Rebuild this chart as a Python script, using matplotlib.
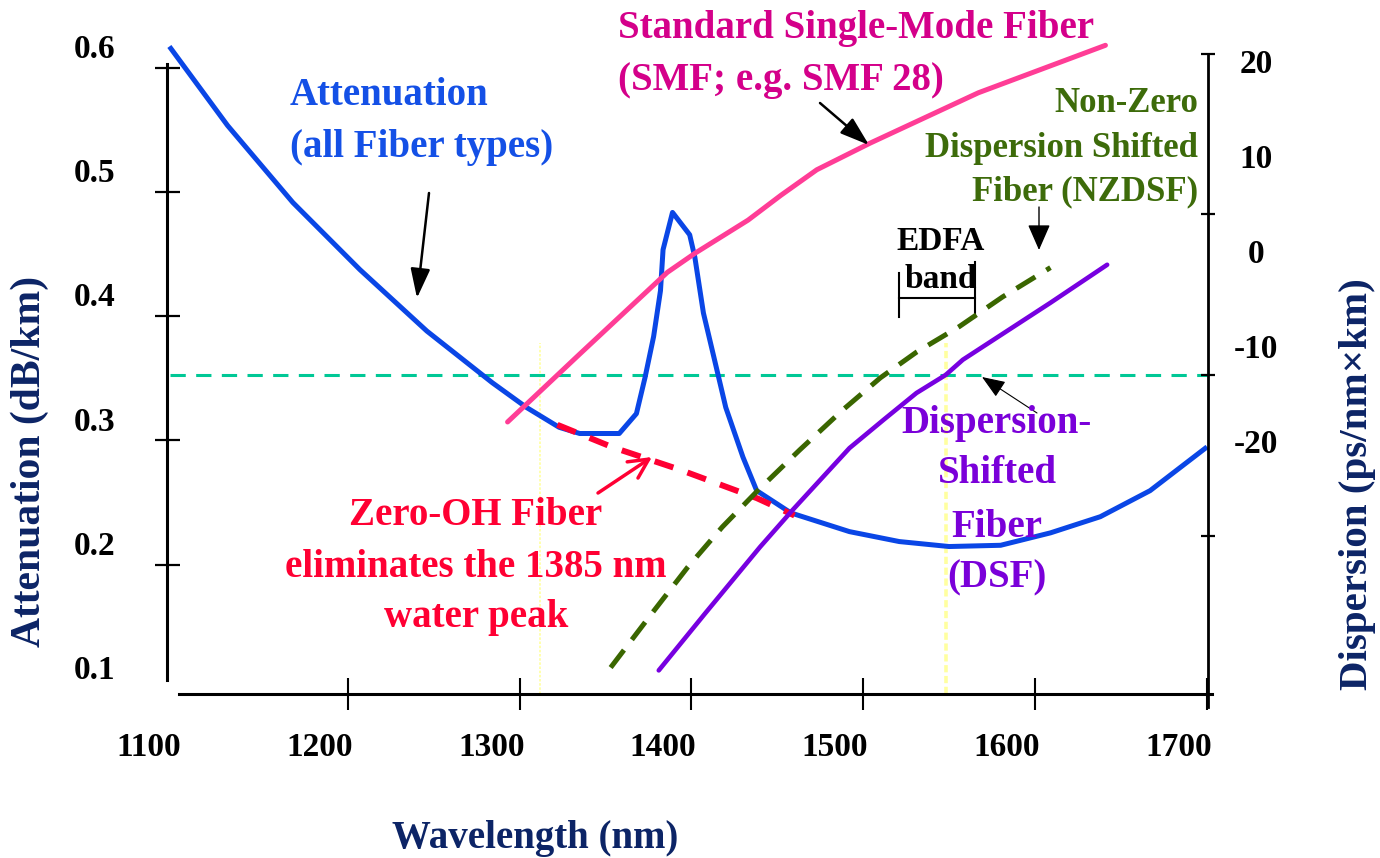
import matplotlib
matplotlib.use("Agg")
import matplotlib.pyplot as plt
from matplotlib.transforms import ScaledTranslation, blended_transform_factory
from matplotlib.ticker import FixedLocator
from matplotlib.patches import ArrowStyle

W, H, DPI = 1380, 858, 100
plt.rcParams["font.family"] = ["Liberation Serif", "DejaVu Serif"]
plt.rcParams["font.weight"] = "bold"

# ---------------- data ----------------
att_wl = [1097, 1130, 1168, 1207, 1246, 1284, 1304, 1323, 1335, 1358, 1368, 1373,
          1378, 1382, 1383.5, 1389, 1399, 1402, 1407, 1413, 1420, 1430, 1438, 1458,
          1492, 1521, 1550, 1580, 1609, 1638, 1667, 1699]
att_db = [0.598, 0.536, 0.474, 0.420, 0.3705, 0.329, 0.309, 0.293, 0.288, 0.288,
          0.304, 0.333, 0.366, 0.403, 0.436, 0.466, 0.448, 0.430, 0.385, 0.350,
          0.309, 0.269, 0.242, 0.224, 0.209, 0.201, 0.197, 0.198, 0.208, 0.221,
          0.242, 0.276]

zoh_wl = [1322, 1354, 1393, 1438, 1460]
zoh_db = [0.295, 0.277, 0.259, 0.236, 0.222]

smf_wl = [1293, 1335, 1386, 1402, 1433, 1452, 1473, 1504, 1567, 1641]
smf_disp = [-18.05, -10.9, -2.3, -0.3, 3.2, 5.8, 8.5, 11.3, 16.6, 21.6]

nzdsf_wl = [1353, 1377, 1398, 1418, 1439, 1463, 1488, 1510, 1531, 1556, 1581, 1609]
nzdsf_disp = [-43.9, -38.2, -33.3, -29.1, -25.2, -21.0, -16.8, -13.4, -10.7, -8.0,
              -4.9, -1.8]

dsf_wl = [1381, 1408, 1440, 1459, 1492, 1512, 1531, 1548, 1558, 1609, 1642]
dsf_disp = [-44.2, -38.2, -31.2, -27.3, -20.8, -17.8, -15.0, -13.1, -11.5, -5.5, -1.5]

zero_disp_level = -13.1          # dashed reference line (right axis units)
ref_wavelengths = [1312, 1548]   # pale yellow markers
edfa_band = [1521, 1565]

x_ticks = [1100, 1200, 1300, 1400, 1500, 1600, 1700]
att_ticks = [0.1, 0.2, 0.3, 0.4, 0.5, 0.6]
disp_ticks = [20, 10, 0, -10, -20]
disp_tick_marks = [20.7, 3.8, -13.1, -30.0]

# ---------------- colours ----------------
C_BLUE = "#0a46e6"
C_BLUE_T = "#1450e6"
C_PINK = "#ff3d96"
C_MAG_T = "#d4008a"
C_GREEN = "#3a6600"
C_GREEN_T = "#3d6b0a"
C_PURPLE = "#7700e0"
C_PURPLE_T = "#7a00d9"
C_RED = "#ff0033"
C_TEAL = "#00c896"
C_YELLOW = "#ffffa0"
C_NAVY = "#0c2466"

fig = plt.figure(figsize=(W / DPI, H / DPI), dpi=DPI)
ax = fig.add_axes([167 / W, 1 - 694 / H, (1208 - 167) / W, (694 - 40) / H])
ax.set_xlim(1094.76, 1700.7)
ax.set_ylim(0.07826, 0.60483)
ax2 = ax.twinx()
ax2.set_ylim(-46.684, 22.158)
ax.patch.set_visible(False)

# ---------------- reference lines ----------------
bt = blended_transform_factory(ax.transAxes, ax2.transData)
ax.plot([0.003, 1.0], [zero_disp_level, zero_disp_level], transform=bt,
        color=C_TEAL, lw=2.2, dashes=(5, 3.4), zorder=1)
ax.vlines(ref_wavelengths, 0.07826, 0.361, colors=C_YELLOW,
          linestyles=[(0, (1.5, 1)), (0, (2, 1))], lw=[1.2, 2.6], zorder=0.5)

# ---------------- curves ----------------
ax.plot(att_wl, att_db, color=C_BLUE, lw=3.6, zorder=3, solid_joinstyle="round")
ax.plot(zoh_wl, zoh_db, color=C_RED, lw=4.3, dashes=(3.3, 2.5), zorder=4)
ax2.plot(smf_wl, smf_disp, color=C_PINK, lw=3.6, zorder=3, solid_capstyle="round")
ax2.plot(nzdsf_wl, nzdsf_disp, color=C_GREEN, lw=3.6, dashes=(4.4, 2.6), zorder=3)
ax2.plot(dsf_wl, dsf_disp, color=C_PURPLE, lw=3.3, zorder=3, solid_capstyle="round")

# EDFA band bracket
ax.plot(edfa_band, [0.3971, 0.3971], color="black", lw=1.5)
ax.plot([edfa_band[0], edfa_band[0]], [0.3818, 0.4172], color="black", lw=1.5)
ax.plot([edfa_band[1], edfa_band[1]], [0.3818, 0.4261], color="black", lw=1.5)

# ---------------- spines & ticks ----------------
for s in ["top", "right"]:
    ax.spines[s].set_visible(False)
for s in ["top", "left", "bottom"]:
    ax2.spines[s].set_visible(False)
ax.spines["left"].set_bounds(0.0895, 0.5855)
ax.spines["left"].set_linewidth(2.2)
ax.spines["bottom"].set_bounds(1101.7, 1703)
ax.spines["bottom"].set_linewidth(2.2)
ax2.spines["right"].set_bounds(-48.05, 20.7)
ax2.spines["right"].set_linewidth(2.0)

ax.xaxis.remove_overlapping_locs = False
ax.set_xticks(x_ticks)
ax.set_xticklabels([str(v) for v in x_ticks])
ax.xaxis.set_minor_locator(FixedLocator(x_ticks[1:]))
ax.tick_params(axis="x", which="major", length=0, pad=27, labelsize=24)
ax.tick_params(axis="x", which="minor", direction="inout", length=23, width=1.5)
for lab in ax.get_xticklabels():
    lab.set_ha("right")
    lab.set_transform(lab.get_transform() + ScaledTranslation(5 / DPI, 0, fig.dpi_scale_trans))

ax.set_yticks(att_ticks)
ax.set_yticklabels([f"{v:.1f}" for v in att_ticks])
ax.yaxis.set_minor_locator(FixedLocator([t - 0.0175 for t in att_ticks[1:]]))
ax.tick_params(axis="y", which="major", length=0, pad=37, labelsize=24)
ax.tick_params(axis="y", which="minor", direction="inout", length=18, width=1.6)

ax2.set_yticks(disp_ticks)
ax2.set_yticklabels([str(v) for v in disp_ticks])
ax2.yaxis.set_minor_locator(FixedLocator(disp_tick_marks))
ax2.tick_params(axis="y", which="major", length=0, pad=34.5, labelsize=24)
ax2.tick_params(axis="y", which="minor", direction="inout", length=9.5, width=1.6)
for lab in ax2.get_yticklabels():
    lab.set_ha("center")

# ---------------- texts ----------------
def T(x, y, s, color, size=28, ha="left"):
    fig.text(x / W, 1 - y / H, s, color=color, fontsize=size, ha=ha,
             va="baseline", fontweight="bold")

T(290, 105, "Attenuation", C_BLUE_T)
T(290, 157, "(all Fiber types)", C_BLUE_T)
T(618, 38, "Standard Single-Mode Fiber", C_MAG_T)
T(618, 90, "(SMF; e.g. SMF 28)", C_MAG_T)
T(1198, 112, "Non-Zero", C_GREEN_T, 25, "right")
T(1198, 157, "Dispersion Shifted", C_GREEN_T, 25, "right")
T(1198, 200, "Fiber (NZDSF)", C_GREEN_T, 25, "right")
T(941, 250, "EDFA", "black", 24, "center")
T(941, 288, "band", "black", 24, "center")
T(476, 525, "Zero-OH Fiber", C_RED, 28, "center")
T(476, 577, "eliminates the 1385 nm", C_RED, 28, "center")
T(476, 627, "water peak", C_RED, 28, "center")
T(997, 433, "Dispersion-", C_PURPLE_T, 28, "center")
T(997, 483, "Shifted", C_PURPLE_T, 28, "center")
T(997, 537, "Fiber", C_PURPLE_T, 28, "center")
T(997, 587, "(DSF)", C_PURPLE_T, 28, "center")

fig.text(535 / W, 1 - 848 / H, "Wavelength (nm)", color=C_NAVY, fontsize=28,
         ha="center", va="baseline", fontweight="bold")
fig.text(30 / W, 1 - 461 / H, "Attenuation (dB/km)", color=C_NAVY, fontsize=30,
         ha="center", va="center", rotation=90, fontweight="bold")
fig.text(1357 / W, 1 - 484 / H, "Dispersion (ps/nm\u00d7km)", color=C_NAVY, fontsize=29.5,
         ha="center", va="center", rotation=90, fontweight="bold")

# ---------------- arrows ----------------
def A(tail, tip, color="black", lw=1.5, style=None, ms=20):
    ax2.annotate("", xy=(tip[0], H - tip[1]), xytext=(tail[0], H - tail[1]),
                 xycoords="figure pixels", textcoords="figure pixels",
                 arrowprops=dict(arrowstyle=style, color=color, lw=lw,
                                 mutation_scale=ms, shrinkA=0, shrinkB=0),
                 annotation_clip=False)

A((429, 193), (417, 298), style=ArrowStyle("-|>", head_length=0.9, head_width=0.3), lw=1.8)
A((820, 103), (869, 145), style=ArrowStyle("-|>", head_length=0.9, head_width=0.3), lw=1.8)
A((1039, 207), (1039, 250), style=ArrowStyle("-|>", head_length=0.8, head_width=0.35), lw=1.0)
A((1037, 413), (982, 377), style=ArrowStyle("-|>", head_length=0.9, head_width=0.35), lw=0.8, ms=16)
A((598, 493), (652, 457), color=C_RED, style=ArrowStyle("->", head_length=0.7, head_width=0.35), lw=2.5)

fig.savefig("out.png", dpi=DPI)
